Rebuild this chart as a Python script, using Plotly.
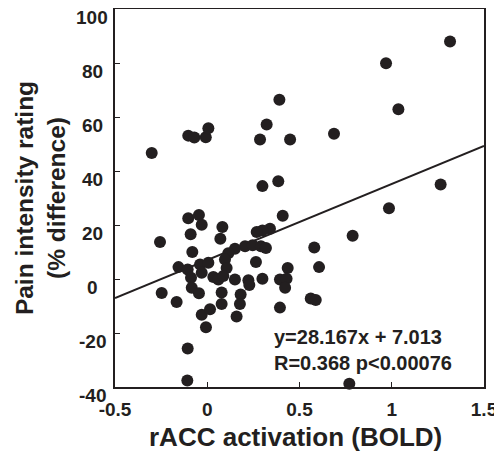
import plotly.graph_objects as go

# rACC activation (BOLD) vs pain intensity rating (% difference)
racc = [1.316, 0.969, 1.036, 0.391, 0.322, 0.687, 0.286, 0.449, -0.301, -0.103,
        -0.070, -0.008, 0.006, 0.299, 0.385, 1.265, 0.985, 0.409, 0.788, -0.256,
        -0.103, -0.045, -0.030, -0.090, 0.082, 0.071, -0.081, 0.340, 0.299, 0.268,
        0.205, 0.246, 0.291, 0.318, 0.150, 0.114, 0.096, 0.105, 0.264, -0.156,
        -0.106, -0.039, 0.006, 0.436, 0.606, 0.580, -0.088, -0.030, 0.033, 0.060,
        0.087, 0.150, 0.223, 0.299, 0.394, 0.430, -0.084, -0.045, 0.078, 0.181,
        0.228, 0.422, -0.247, -0.166, 0.078, 0.177, 0.159, -0.030, 0.015, -0.007,
        0.394, 0.561, 0.588, -0.106, -0.108, 0.770]
pain = [88.0, 79.9, 62.9, 66.4, 57.2, 53.8, 51.7, 51.7, 46.7, 53.1,
        52.4, 52.5, 55.8, 34.4, 36.2, 35.0, 26.2, 23.4, 16.0, 13.7,
        22.5, 23.7, 20.1, 16.6, 19.3, 14.9, 10.0, 18.6, 18.0, 17.4,
        12.1, 12.5, 12.1, 11.5, 11.2, 9.5, 7.2, 4.1, 6.3, 4.4,
        3.5, 5.4, 6.0, 4.1, 4.4, 11.7, 0.5, 2.3, 0.7, -0.2,
        1.1, -0.2, -0.5, 0.1, -0.2, 0.1, -3.2, -5.3, -5.0, -5.7,
        -2.2, -3.2, -5.2, -8.5, -9.3, -9.3, -13.9, -13.2, -11.2, -17.9,
        -10.6, -7.2, -7.8, -25.7, -37.6, -38.8]

slope = 28.167
intercept = 7.013
fit_x = [-0.5, 1.5]
fit_y = [slope * v + intercept for v in fit_x]

x_ticks = [-0.5, 0, 0.5, 1, 1.5]
x_tick_text = ["-0.5", "0", "0.5", "1", "1.5"]
y_ticks = [-40, -20, 0, 20, 40, 60, 80, 100]
y_tick_text = ["-40", "-20", "0", "20", "40", "60", "80", "100"]

INK = "#231f20"
FONT = "Liberation Sans, Arial, sans-serif"

fig = go.Figure()
fig.add_trace(go.Scatter(x=fit_x, y=fit_y, mode="lines",
                         line=dict(color=INK, width=2), showlegend=False,
                         hoverinfo="skip"))
fig.add_trace(go.Scatter(x=racc, y=pain, mode="markers",
                         marker=dict(color=INK, size=12, line=dict(width=0)),
                         showlegend=False, cliponaxis=False))

annotations = []
for v, t in zip(y_ticks, y_tick_text):
    annotations.append(dict(x=-0.062, xref="paper", y=v, yref="y", text="<b>%s</b>" % t,
                            showarrow=False, xanchor="center", yanchor="middle",
                            yshift=-8, font=dict(family=FONT, size=19, color=INK)))

annotations.append(dict(x=-0.203, xref="paper", y=0.5, yref="paper",
                        text="<b>Pain intensity rating<br>(% difference)</b>",
                        textangle=-90, showarrow=False, xanchor="center", yanchor="middle",
                        font=dict(family=FONT, size=24.5, color=INK)))
annotations.append(dict(x=0.49, xref="paper", y=-0.133, yref="paper",
                        text="<b>rACC activation (BOLD)</b>",
                        showarrow=False, xanchor="center", yanchor="middle",
                        font=dict(family=FONT, size=26, color=INK)))
annotations.append(dict(x=0.4255, xref="paper", y=0.097, yref="paper",
                        text="<b>y=28.167x + 7.013<br>R=0.368 p<0.00076</b>",
                        showarrow=False, xanchor="left", yanchor="middle", align="left",
                        font=dict(family=FONT, size=20, color=INK)))

# the page body adds an 8px offset; the figure reaches the window's right/bottom edges
fig.update_layout(
    width=494, height=444,
    margin=dict(l=107, r=18, t=1, b=65),
    paper_bgcolor="white", plot_bgcolor="white",
    annotations=annotations,
    xaxis=dict(range=[-0.5, 1.5], tickvals=x_ticks, ticktext=["<b>%s</b>" % t for t in x_tick_text],
               ticks="inside", ticklen=5, tickwidth=1, tickcolor=INK,
               showline=True, linecolor=INK, linewidth=2, mirror=True,
               showgrid=False, zeroline=False, automargin=False,
               ticklabelstandoff=4,
               tickfont=dict(family=FONT, size=19, color=INK)),
    yaxis=dict(range=[-40, 100], tickvals=y_ticks, showticklabels=False,
               ticks="inside", ticklen=5, tickwidth=1, tickcolor=INK,
               showline=True, linecolor=INK, linewidth=2, mirror=True,
               showgrid=False, zeroline=False, automargin=False),
)

fig.write_html("out.html")
